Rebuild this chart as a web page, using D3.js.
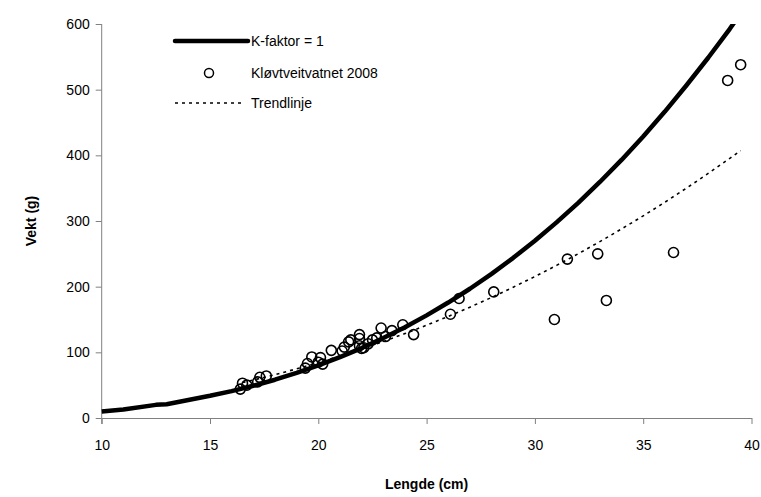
<!DOCTYPE html>
<html><head><meta charset="utf-8">
<script src="https://cdn.jsdelivr.net/npm/d3@7"></script>
<style>body{margin:0;background:#fff}text{font-family:"Liberation Sans",Arial,sans-serif}</style>
</head><body><svg id="c" width="761" height="497"></svg>
<script>
// K-faktor = 1 reference curve (length cm, weight g)
const kLength = [10,11,12.5,13,14,15,16,17,18,19,20,21,22,23,24,25,26,27,28,29,30,31,32,33,34,35,36,37,38,39,40];
const kWeight = [10,13,20,21,27.4,33.8,41,49.1,58.3,68.6,80,92.6,106.5,121.7,138.2,156.3,175.8,196.8,219.5,243.9,270,297.9,327.7,359.4,393,428.8,466.6,506.7,548.6,592.7,640];
// Kløvtveitvatnet 2008 observations
const obsLength = [16.4,16.5,16.7,17.2,17.3,17.6,19.4,19.5,19.7,20.0,20.1,20.2,20.6,21.1,21.2,21.4,21.5,21.9,21.9,21.9,22.0,22.1,22.3,22.5,22.7,22.9,23.1,23.4,23.9,24.4,26.1,26.5,28.1,30.9,31.5,32.9,33.3,36.4,38.9,39.5];
const obsWeight = [44,53,50,55,62,64,76,83,93,85,92,82,103,102,108,116,119,110,121,127,106,107,113,119,122,137,124,133,142,127,158,182,192,150,242,250,179,252,514,538];
// Trendline
const trendLength = [16.5,17,18,19,20,21,22,23,24,25,26,27,28,29,30,31,32,33,34,35,36,37,38,39,39.5];
const trendWeight = [54,57.8,66,74.8,84.3,94.3,105.1,116.5,128.5,141.3,154.7,168.8,183.6,199.2,215.4,232.4,250.1,268.6,287.9,307.8,328.6,350.1,372.4,395.5,407.3];
const xTicks = [10,15,20,25,30,35,40];
const yTicks = [0,100,200,300,400,500,600];

const svg = d3.select("#c");
const L = 101.7, R = 751.5, T = 24, B = 418;
const x = d3.scaleLinear().domain([10,40]).range([L,R]);
const y = d3.scaleLinear().domain([0,600]).range([B,T]);
const axisColor = "#808080";

svg.append("defs").append("clipPath").attr("id","pc")
  .append("rect").attr("x",L-6).attr("y",T).attr("width",R-L+12).attr("height",B-T+6);

// axes
const xa = svg.append("g").attr("transform",`translate(0,${B})`)
  .call(d3.axisBottom(x).tickValues(xTicks).tickSize(6).tickSizeOuter(0).tickPadding(16));
const ya = svg.append("g").attr("transform",`translate(${L},0)`)
  .call(d3.axisLeft(y).tickValues(yTicks).tickSize(6).tickSizeOuter(0).tickPadding(6));
[xa,ya].forEach(g=>{
  g.select(".domain").attr("stroke",axisColor).attr("stroke-width",1);
  g.selectAll(".tick line").attr("stroke",axisColor);
  g.selectAll(".tick text").attr("fill","#000").style("font-size","14px").style("font-family","'Liberation Sans',Arial,sans-serif");
});
ya.select(".domain").attr("d",`M0,${B+6}V${T}`);

const plot = svg.append("g").attr("clip-path","url(#pc)");
const kData = kLength.map((l,i)=>[l,kWeight[i]]);
const tData = trendLength.map((l,i)=>[l,trendWeight[i]]);
const line = d3.line().x(d=>x(d[0])).y(d=>y(d[1]));

plot.append("path").datum(kData).attr("d",line).attr("fill","none")
  .attr("stroke","#000").attr("stroke-width",4.5).attr("stroke-linejoin","round");

plot.selectAll("circle.obs").data(obsLength.map((l,i)=>[l,obsWeight[i]])).join("circle")
  .attr("class","obs").attr("cx",d=>x(d[0])).attr("cy",d=>y(d[1])).attr("r",5)
  .attr("fill","none").attr("stroke","#000").attr("stroke-width",1.6);

plot.append("path").datum(tData).attr("d",line).attr("fill","none")
  .attr("stroke","#000").attr("stroke-width",1.6).attr("stroke-dasharray","3,4");

// legend
const lg = svg.append("g").style("font-size","14px");
lg.append("line").attr("x1",175).attr("x2",248).attr("y1",41).attr("y2",41)
  .attr("stroke","#000").attr("stroke-width",4.5).attr("stroke-linecap","round");
lg.append("text").attr("x",251).attr("y",46).text("K-faktor = 1");
lg.append("circle").attr("cx",209).attr("cy",73).attr("r",4.5)
  .attr("fill","none").attr("stroke","#000").attr("stroke-width",1.5);
lg.append("text").attr("x",251).attr("y",78).text("Kløvtveitvatnet 2008");
lg.append("line").attr("x1",175).attr("x2",245).attr("y1",103).attr("y2",103)
  .attr("stroke","#000").attr("stroke-width",1.5).attr("stroke-dasharray","3,4");
lg.append("text").attr("x",251).attr("y",108).text("Trendlinje");

// axis titles
svg.append("text").attr("x",(L+R)/2).attr("y",489).attr("text-anchor","middle")
  .style("font-size","14px").style("font-weight","bold").text("Lengde (cm)");
svg.append("text").attr("transform",`translate(36,${(T+B)/2}) rotate(-90)`).attr("text-anchor","middle")
  .style("font-size","14px").style("font-weight","bold").text("Vekt (g)");
</script></body></html>
